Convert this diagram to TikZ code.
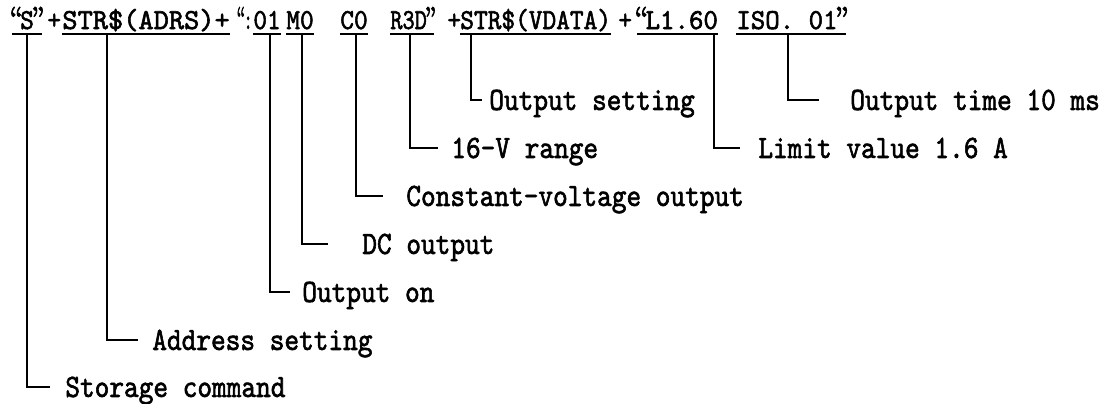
\documentclass[tikz,border=0pt]{standalone}
\usepackage{graphicx}
\usetikzlibrary{calc}
\font\codefnt="[lmmono10-regular.otf]:embolden=2" at 16.5pt
\font\notefnt="[lmmono10-regular.otf]:embolden=2" at 18.5pt
\font\quotefnt="[lmroman10-regular.otf]:embolden=3" at 18pt
\newcommand\qo{\makebox[0.3em]{\quotefnt “}}
\newcommand\qc{\makebox[0.3em]{\quotefnt ”}}
\newcommand\code[2][0.9]{\scalebox{#1}[1]{#2}}
\newcommand\note[1]{\scalebox{0.86}[1]{#1}}
\tikzset{
  tok/.style={anchor=base west, inner sep=0pt, text depth=2.55pt,
    font=\fontsize{16.5}{18}\selectfont\codefnt},
  lab/.style={anchor=west, inner sep=0pt, text height=11.3pt, text depth=0pt,
    font=\fontsize{18.5}{20}\selectfont\notefnt},
  lead/.style={line width=0.8pt},
}
\begin{document}
\begin{tikzpicture}[x=0.02cm,y=-0.02cm]
  \useasboundingbox (0,0) rectangle (1111,403);
  % command string
  \node[tok] (tStore) at (12,29) {\code{\qo S\qc}};
  \node[tok] (p1) at (47,29) {\code{+}};
  \node[tok] (tAdrs) at (62,29) {\code[1.0]{STR\$(ADRS)+}};
  \node[tok] (q1) at (238,29) {\code[0.6]{\qo:}};
  \node[tok] (tOn) at (253,29) {\code{01}};
  \node[tok] (tDC) at (286,29) {\code{M0}};
  \node[tok] (tCV) at (340,29) {\code{C0}};
  \node[tok] (tRange) at (390,29) {\code[0.8]{R3D\qc}};
  \node[tok] (p2) at (447,29) {\code{+}};
  \node[tok] (tVset) at (460,29) {\code{STR\$(VDATA)}};
  \node[tok] (p3) at (618,29) {\code{+}};
  \node[tok] (tLimit) at (637,29) {\code[0.95]{\qo L1.60}};
  \node[tok] (tTime) at (736,29) {\code[0.95]{ISO. 01\qc}};
  \foreach \t in {tStore,tAdrs,tOn,tDC,tCV,tRange,tVset,tLimit,tTime}
    \draw[lead] (\t.south west) -- (\t.south east);

  % meanings
  \node[lab] (lVset) at (489,100) {\note{Output setting}};
  \node[lab] (lTime) at (850,100) {\note{Output time 10 ms}};
  \node[lab] (lRange) at (451,148) {\note{16-V range}};
  \node[lab] (lLimit) at (758,148) {\note{Limit value 1.6 A}};
  \node[lab] (lCV) at (406,196) {\note{Constant-voltage output}};
  \node[lab] (lDC) at (362,244) {\note{DC output}};
  \node[lab] (lOn) at (302,292) {\note{Output on}};
  \node[lab] (lAdrs) at (152,340) {\note{Address setting}};
  \node[lab] (lStore) at (65,387) {\note{Storage command}};

  \draw[lead] ($(tStore.south west)+(15,0)$) |- ($(lStore.west)+(-15,0)$);
  \draw[lead] ($(tAdrs.south west)+(45,0)$) |- ($(lAdrs.west)+(-14,0)$);
  \draw[lead] ($(tOn.south west)+(17,0)$) |- ($(lOn.west)+(-12,0)$);
  \draw[lead] ($(tDC.south west)+(16,0)$) |- ($(lDC.west)+(-34,0)$);
  \draw[lead] ($(tCV.south west)+(16,0)$) |- ($(lCV.west)+(-23,0)$);
  \draw[lead] ($(tRange.south west)+(20,0)$) |- ($(lRange.west)+(-13,0)$);
  \draw[lead] ($(tVset.south west)+(11,0)$) |- ($(lVset.west)+(-7,0)$);
  \draw[lead] ($(tLimit.south west)+(77,0)$) |- ($(lLimit.west)+(-18,0)$);
  \draw[lead] ($(tTime.south west)+(52,0)$) |- ($(lTime.west)+(-31,0)$);
\end{tikzpicture}
\end{document}
